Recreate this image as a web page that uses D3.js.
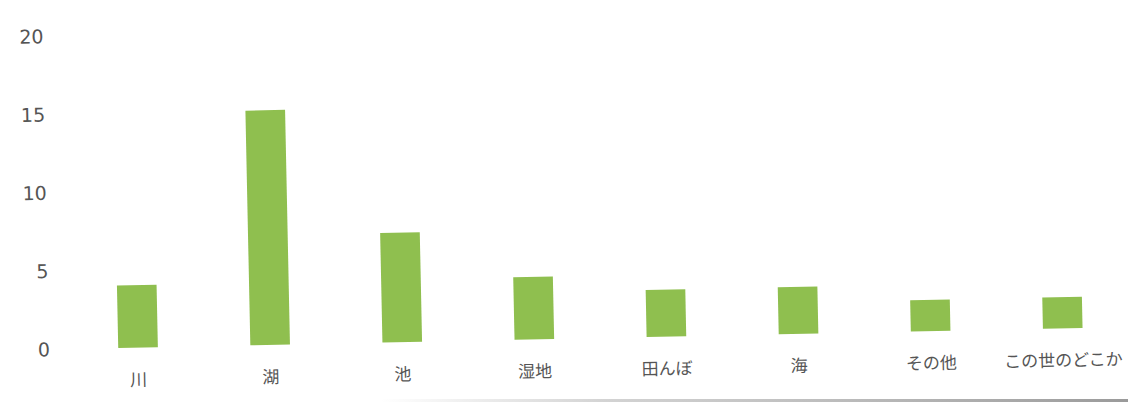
<!DOCTYPE html>
<html lang="ja">
<head>
<meta charset="utf-8">
<script src="https://cdn.jsdelivr.net/npm/d3@7"></script>
<style>
  html, body { margin: 0; padding: 0; background: #fff; }
  svg { display: block; }
</style>
</head>
<body>
<svg id="chart" width="1128" height="405"></svg>
<script>
// 生き物が見つかった場所（件数）
const categories = ["川", "湖", "池", "湿地", "田んぼ", "海", "その他", "この世のどこか"];
const counts = [4, 15, 7, 4, 3, 3, 2, 2];
const yTicks = [0, 5, 10, 15, 20];

const W = 1128, H = 405;
const barColor = "#8fbf4f";
const textColor = "#555";

const svg = d3.select("#chart");

// printed page is slightly tilted
const g = svg.append("g").attr("transform", "rotate(-1.2, 600, 200)");

const x = d3.scaleBand()
  .domain(categories)
  .range([69, 1126])
  .paddingInner(0.7)
  .paddingOuter(0.35);

const y = d3.scaleLinear()
  .domain([0, 20])
  .range([338, 25]);

// y axis: labels only
const yAxis = g.append("g")
  .attr("transform", "translate(56,0)")
  .call(d3.axisLeft(y).tickValues(yTicks).tickSize(0).tickPadding(9));
yAxis.select(".domain").remove();
yAxis.selectAll("text")
  .attr("fill", textColor)
  .style("font-family", "'DejaVu Sans', Verdana, sans-serif")
  .style("font-size", "19px");

// bars
g.append("g")
  .selectAll("rect")
  .data(counts)
  .join("rect")
  .attr("x", (d, i) => x(categories[i]))
  .attr("width", x.bandwidth())
  .attr("y", d => y(d))
  .attr("height", d => y(0) - y(d))
  .attr("fill", barColor);

// category labels
const xAxis = g.append("g")
  .attr("transform", `translate(0,${y(0)})`)
  .call(d3.axisBottom(x).tickSize(0).tickPadding(26));
xAxis.select(".domain").remove();
xAxis.selectAll("text")
  .attr("fill", textColor)
  .style("font-family", "'Noto Sans CJK JP', sans-serif")
  .style("font-size", "17px");

// page edge along the bottom
const defs = svg.append("defs");
const grad = defs.append("linearGradient").attr("id", "edge");
grad.append("stop").attr("offset", "0%").attr("stop-color", "#ccc").attr("stop-opacity", 0);
grad.append("stop").attr("offset", "30%").attr("stop-color", "#c8c8c8").attr("stop-opacity", 0.8);
grad.append("stop").attr("offset", "100%").attr("stop-color", "#9a9a9a").attr("stop-opacity", 1);
svg.append("rect")
  .attr("x", 380).attr("y", 399)
  .attr("width", W - 380).attr("height", 3)
  .attr("fill", "url(#edge)");
</script>
</body>
</html>
